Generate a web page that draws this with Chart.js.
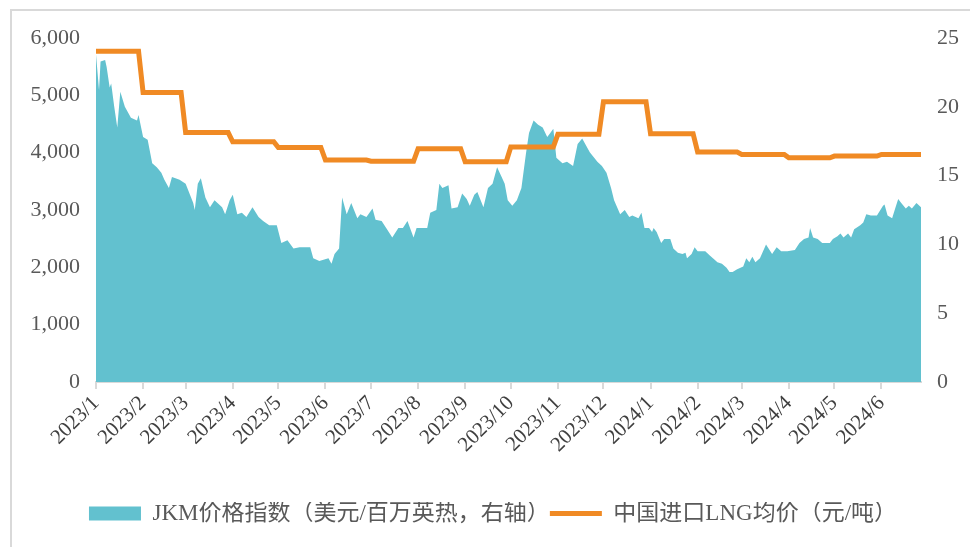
<!DOCTYPE html>
<html>
<head>
<meta charset="utf-8">
<script src="https://cdn.jsdelivr.net/npm/chart.js@4.4.1/dist/chart.umd.min.js"></script>
<style>
  html, body { margin: 0; padding: 0; background: #fff; }
  #frame {
    position: absolute; left: 10px; top: 9px; width: 980px; height: 560px;
    border: 2px solid #d9d9d9; box-sizing: border-box;
  }
  #wrap { position: absolute; left: 0; top: 0; width: 970px; height: 547px; }
</style>
</head>
<body>
<div id="frame"></div>
<div id="wrap"><canvas id="grafico" width="970" height="547"></canvas></div>
<script>
// ============================
// DADOS
// ============================
// eixo x: meses (rótulos dos ticks)
const rotulosMes = [
  '2023/1', '2023/2', '2023/3', '2023/4', '2023/5', '2023/6',
  '2023/7', '2023/8', '2023/9', '2023/10', '2023/11', '2023/12',
  '2024/1', '2024/2', '2024/3', '2024/4', '2024/5', '2024/6'
];

// JKM (美元/百万英热) — dias desde 2023-01-01 e valores
const jkmDia = [
  0, 2, 3, 6, 7, 9, 10, 12, 14, 16, 19, 23, 27, 28, 31, 34, 37, 40, 43, 45,
  48, 50, 55, 59, 64, 65, 67, 69, 72, 75, 78, 83, 85, 88, 90, 93, 96, 99, 103, 107,
  110, 114, 119, 122, 126, 130, 134, 141, 143, 147, 153, 155, 157, 160, 162, 165, 168, 172, 174, 178,
  182, 184, 188, 191, 195, 199, 202, 205, 209, 211, 218, 220, 224, 226, 228, 232, 234, 238, 241, 244,
  246, 249, 251, 255, 258, 261, 264, 267, 269, 271, 274, 277, 280, 283, 285, 288, 291, 294, 297, 299,
  301, 303, 307, 310, 314, 317, 320, 325, 330, 333, 336, 339, 341, 345, 348, 351, 353, 357, 359, 361,
  364, 366, 367, 369, 372, 374, 378, 380, 383, 386, 388, 389, 392, 394, 396, 401, 404, 407, 409, 412,
  415, 417, 419, 422, 426, 428, 430, 432, 434, 437, 441, 445, 448, 451, 455, 460, 463, 466, 469, 470,
  472, 475, 478, 483, 485, 488, 490, 492, 495, 497, 499, 503, 505, 507, 510, 514, 518, 519, 521, 524,
  526, 528, 530, 533, 535, 537, 540, 543
];
const jkmValor = [
  23.8, 21.2, 23.3, 23.4, 22.9, 21.4, 21.7, 20.0, 18.5, 21.1, 20.0, 19.2, 19.0, 19.4, 17.8, 17.6, 15.9, 15.6, 15.2, 14.7,
  14.1, 14.9, 14.7, 14.4, 13.0, 12.5, 14.4, 14.8, 13.4, 12.7, 13.2, 12.7, 12.2, 13.2, 13.6, 12.2, 12.3, 12.0, 12.7, 12.0,
  11.7, 11.4, 11.4, 10.1, 10.3, 9.7, 9.8, 9.8, 9.0, 8.8, 9.0, 8.6, 9.3, 9.7, 13.4, 12.2, 13.0, 11.9, 12.2, 12.0,
  12.6, 11.8, 11.7, 11.2, 10.5, 11.2, 11.2, 11.7, 10.5, 11.2, 11.2, 12.3, 12.5, 14.4, 14.1, 14.3, 12.6, 12.7, 13.7, 13.3,
  12.8, 13.6, 13.8, 12.7, 14.1, 14.4, 15.6, 14.9, 14.4, 13.2, 12.8, 13.2, 14.1, 16.6, 18.1, 19.0, 18.7, 18.5, 17.8, 18.1,
  18.4, 16.3, 15.9, 16.0, 15.7, 17.3, 17.7, 16.7, 16.0, 15.7, 15.2, 14.1, 13.2, 12.2, 12.5, 12.0, 12.1, 11.9, 12.3, 11.2,
  11.2, 10.9, 11.2, 10.9, 10.1, 10.4, 10.4, 9.7, 9.4, 9.3, 9.4, 9.0, 9.3, 9.8, 9.5, 9.5, 9.2, 8.9, 8.7, 8.6,
  8.3, 8.0, 8.0, 8.2, 8.4, 9.0, 8.7, 9.1, 8.7, 9.0, 10.0, 9.3, 9.8, 9.5, 9.5, 9.6, 10.1, 10.4, 10.5, 11.2,
  10.5, 10.4, 10.1, 10.1, 10.4, 10.6, 10.8, 10.5, 10.8, 10.5, 11.1, 11.4, 11.6, 12.2, 12.1, 12.1, 12.8, 12.9, 12.1, 11.9,
  12.6, 13.3, 13.0, 12.6, 12.8, 12.6, 13.0, 12.7
];

// 中国进口LNG均价 (元/吨) — um valor por mês
const lngPreco = [
  5770, 5050, 4350, 4190, 4090, 3870, 3850, 4070, 3840, 4100, 4320, 4890,
  4330, 4010, 3970, 3910, 3940, 3970
];

const diaFinal = 543;
const corJkm = '#62c1cf';
const corLng = '#f08a24';
const fonte = "'Liberation Serif', 'Noto Sans CJK SC', serif";

// ============================
// MONTAGEM
// ============================
function diaDoMes(rotulo) {
  const [a, m] = rotulo.split('/').map(Number);
  return (Date.UTC(a, m - 1, 1) - Date.UTC(2023, 0, 1)) / 86400000;
}

const inicioMes = rotulosMes.map(diaDoMes);

const pontosJkm = jkmDia.map((d, i) => ({ x: d, y: jkmValor[i] }));

const pontosLng = [];
lngPreco.forEach((v, i) => {
  const ini = inicioMes[i];
  const fim = i < inicioMes.length - 1 ? inicioMes[i + 1] - 3 : diaFinal;
  pontosLng.push({ x: ini, y: v });
  pontosLng.push({ x: fim, y: v });
});

const ctx = document.getElementById('grafico').getContext('2d');

new Chart(ctx, {
  type: 'line',
  data: {
    datasets: [
      {
        label: 'JKM价格指数（美元/百万英热，右轴）',
        data: pontosJkm,
        yAxisID: 'y1',
        backgroundColor: corJkm,
        borderColor: corJkm,
        borderWidth: 0,
        pointRadius: 0,
        fill: 'origin',
        tension: 0,
        order: 2
      },
      {
        label: '中国进口LNG均价（元/吨）',
        data: pontosLng,
        yAxisID: 'y',
        borderColor: corLng,
        backgroundColor: corLng,
        borderWidth: 5,
        pointRadius: 0,
        fill: false,
        tension: 0,
        order: 1
      }
    ]
  },
  options: {
    responsive: false,
    animation: false,
    devicePixelRatio: 1,
    layout: { padding: { top: 38, left: 16, right: 0, bottom: 12 } },
    scales: {
      x: {
        type: 'linear',
        min: 0,
        max: diaFinal,
        afterBuildTicks: s => { s.ticks = inicioMes.map(v => ({ value: v })); },
        afterFit: s => { s.height = 120; },
        ticks: {
          autoSkip: false,
          minRotation: 45,
          maxRotation: 45,
          padding: 2,
          color: '#404040',
          font: { family: fonte, size: 21 },
          callback: (v, i) => rotulosMes[i]
        },
        grid: {
          drawOnChartArea: false,
          drawTicks: true,
          tickLength: 7,
          color: '#d9d9d9',
          lineWidth: 2
        },
        border: { display: true, color: '#d9d9d9', width: 2 }
      },
      y: {
        position: 'left',
        min: 0,
        max: 6000,
        afterFit: s => { s.width = 80; },
        ticks: {
          stepSize: 1000,
          padding: 16,
          color: '#595959',
          font: { family: fonte, size: 22 },
          callback: v => v.toLocaleString('en-US')
        },
        grid: { display: false, drawTicks: false },
        border: { display: false }
      },
      y1: {
        position: 'right',
        min: 0,
        max: 25,
        afterFit: s => { s.width = 49; },
        ticks: {
          stepSize: 5,
          padding: 16,
          color: '#595959',
          font: { family: fonte, size: 22 }
        },
        grid: { display: false, drawTicks: false },
        border: { display: false }
      }
    },
    plugins: {
      tooltip: { enabled: false },
      legend: {
        position: 'bottom',
        labels: {
          usePointStyle: true,
          pointStyleWidth: 52,
          boxHeight: 14,
          padding: 0,
          color: '#595959',
          font: { family: fonte, size: 23 },
          generateLabels: chart => chart.data.datasets.map((ds, i) => ({
            text: ds.label,
            datasetIndex: i,
            fillStyle: i === 0 ? corJkm : corLng,
            strokeStyle: i === 0 ? corJkm : corLng,
            lineWidth: i === 0 ? 0 : 5,
            pointStyle: i === 0 ? 'rect' : 'line',
            fontColor: '#595959',
            hidden: false
          }))
        }
      }
    }
  }
});
</script>
</body>
</html>
